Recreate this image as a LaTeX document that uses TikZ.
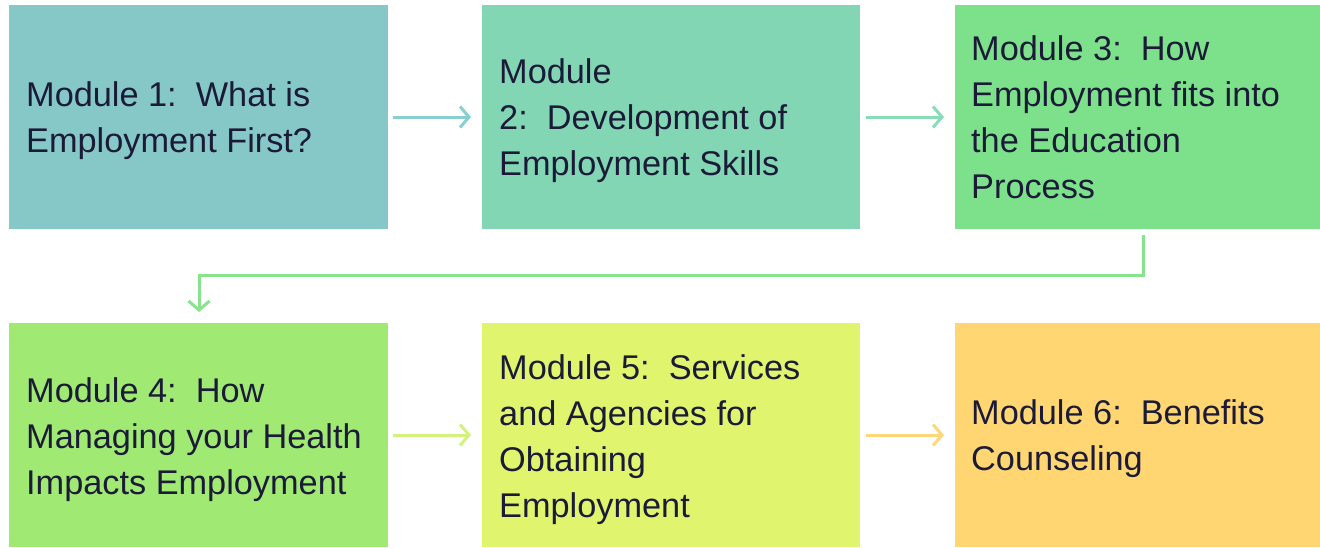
\documentclass[tikz,border=0pt]{standalone}
\usepackage{fontspec}
\setmainfont{Liberation Sans}
\usetikzlibrary{arrows.meta}
\definecolor{cA}{HTML}{86C7C8}
\definecolor{cB}{HTML}{82D6B4}
\definecolor{cC}{HTML}{7DE08A}
\definecolor{cD}{HTML}{A0E973}
\definecolor{cE}{HTML}{E0F46E}
\definecolor{cF}{HTML}{FFD672}
\definecolor{aA}{HTML}{8ACFCF}
\definecolor{aB}{HTML}{88DDB8}
\definecolor{aC}{HTML}{88E48C}
\definecolor{aD}{HTML}{D2F27C}
\definecolor{aE}{HTML}{FFD67A}
\definecolor{txt}{HTML}{1B1B38}
\begin{document}
\begin{tikzpicture}[x=1pt,y=-1pt,
  modbox/.style={minimum width=#1, minimum height=224pt, inner sep=0pt, outer sep=0pt, anchor=north west},
  modtext/.style={anchor=west, align=left, inner sep=0pt, font=\fontsize{34.3pt}{46pt}\selectfont, text=txt},
  conn/.style={line width=3pt, -{Straight Barb[length=9pt,width=21pt,line width=3pt]}}]
\useasboundingbox (0,0) rectangle (1320,547);
\node[modbox=379pt, fill=cA] (b1) at (9,5) {};
\node[modbox=378pt, fill=cB] (b2) at (482,5) {};
\node[modbox=365pt, fill=cC] (b3) at (955,5) {};
\node[modbox=379pt, fill=cD] (b4) at (9,323) {};
\node[modbox=378pt, fill=cE] (b5) at (482,323) {};
\node[modbox=365pt, fill=cF] (b6) at (955,323) {};
\node[modtext] (t1) at (26,121) {Module 1:\ \ What is\\Employment First?};
\node[modtext] (t2) at (499,121) {Module\\2:\ \ Development of\\Employment Skills};
\node[modtext] (t3) at (971,117) {Module 3:\ \ How\\Employment fits into\\the Education\\Process};
\node[modtext] (t4) at (26,440) {Module 4:\ \ How\\Managing your Health\\Impacts Employment};
\node[modtext] (t5) at (499,440) {Module 5:\ \ Services\\and Agencies for\\Obtaining\\Employment};
\node[modtext] (t6) at (971,439) {Module 6:\ \ Benefits\\Counseling};
\coordinate (e1) at (1143,235);
\coordinate (e2) at (1143,275);
\coordinate (e3) at (199,275);
\coordinate (e4) at (199,312);
\draw[conn, draw=aA] ([xshift=5pt]b1.east) -- ([xshift=-11pt]b2.west);
\draw[conn, draw=aB] ([xshift=6pt]b2.east) -- ([xshift=-11pt]b3.west);
\draw[conn, draw=aC] (e1) -- (e2) -- (e3) -- (e4);
\draw[conn, draw=aD] ([xshift=5pt]b4.east) -- ([xshift=-11pt]b5.west);
\draw[conn, draw=aE] ([xshift=6pt]b5.east) -- ([xshift=-11pt]b6.west);
\end{tikzpicture}
\end{document}
